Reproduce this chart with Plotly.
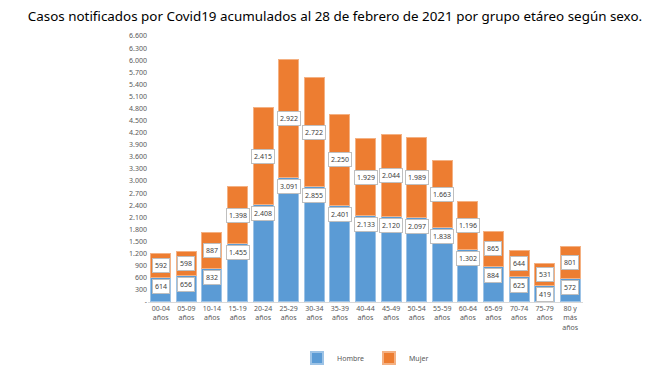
import plotly.graph_objects as go

categorias = ["00-04<br>años", "05-09<br>años", "10-14<br>años", "15-19<br>años", "20-24<br>años",
              "25-29<br>años", "30-34<br>años", "35-39<br>años", "40-44<br>años", "45-49<br>años",
              "50-54<br>años", "55-59<br>años", "60-64<br>años", "65-69<br>años", "70-74<br>años",
              "75-79<br>años", "80 y<br>más<br>años"]
hombre = [614, 656, 832, 1455, 2408, 3091, 2855, 2401, 2133, 2120, 2097, 1838, 1302, 884, 625, 419, 572]
mujer = [592, 598, 887, 1398, 2415, 2922, 2722, 2250, 1929, 2044, 1989, 1663, 1196, 865, 644, 531, 801]
tick_vals = list(range(0, 6601, 300))
tick_text = ["-"] + [f"{v:,}".replace(",", ".") for v in tick_vals[1:]]

def fmt(v):
    return f"{v:,}".replace(",", ".")

fig = go.Figure()
fig.add_trace(go.Bar(x=categorias, y=hombre, name="Hombre",
                     marker=dict(color="#5b9bd5", line=dict(color="#9dc3e6", width=1))))
fig.add_trace(go.Bar(x=categorias, y=mujer, name="Mujer",
                     marker=dict(color="#ed7d31", line=dict(color="#f4b183", width=1))))

ann = []
for c, h, m in zip(categorias, hombre, mujer):
    ann.append(dict(x=c, y=h, yshift=-9, text=fmt(h), showarrow=False,
                    font=dict(size=7, color="#404040", family="Noto Sans"),
                    bgcolor="white", bordercolor="#bfbfbf", borderwidth=1, borderpad=2))
    ann.append(dict(x=c, y=h + m / 2, text=fmt(m), showarrow=False,
                    font=dict(size=7, color="#404040", family="Noto Sans"),
                    bgcolor="white", bordercolor="#bfbfbf", borderwidth=1, borderpad=2))

fig.update_layout(
    barmode="stack",
    width=670, height=377,
    margin=dict(l=140, r=95, t=28, b=72),
    paper_bgcolor="white", plot_bgcolor="white",
    bargap=0.22,
    title=dict(text="Casos notificados por Covid19 acumulados al 28 de febrero de 2021 por grupo etáreo según sexo.",
               x=0.488, xanchor="center", y=1 - 4 / 377, yanchor="top", yref="container",
               pad=dict(t=0, b=0),
               font=dict(size=13.4, color="black", family="Noto Sans")),
    xaxis=dict(showgrid=False, showline=True, linecolor="#d9d9d9", linewidth=1,
               tickfont=dict(size=7, color="#595959", family="Noto Sans"), ticks=""),
    yaxis=dict(range=[0, 6600], tickvals=tick_vals, ticktext=tick_text, showgrid=False,
               showline=False, zeroline=False,
               tickfont=dict(size=7, color="#595959", family="Noto Sans")),
    legend=dict(orientation="h", x=0.5, xanchor="center", y=1 - 350 / 377, yref="container",
                yanchor="middle", font=dict(size=7, color="#595959", family="Noto Sans"),
                itemwidth=30, traceorder="normal", itemsizing="constant"),
    annotations=ann,
)
fig.write_html("out.html")
